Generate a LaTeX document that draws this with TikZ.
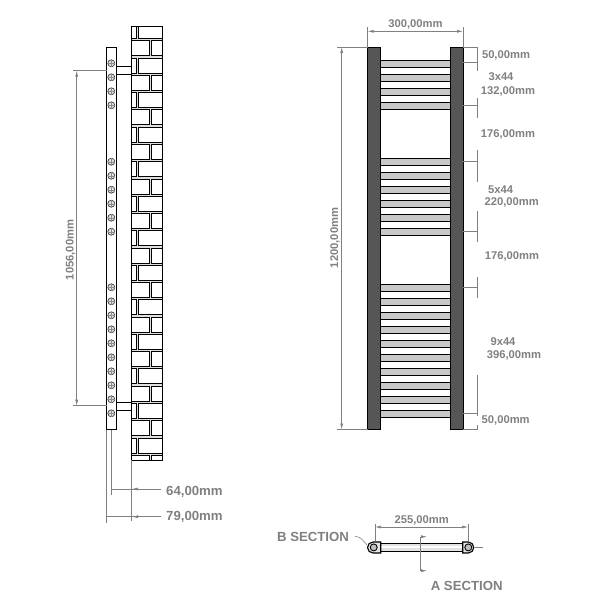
\documentclass[tikz,border=0pt]{standalone}
\usepackage{fontspec}
\setmainfont{Liberation Sans}
\usetikzlibrary{arrows.meta}
\definecolor{dimgray}{HTML}{808080}
\definecolor{railgray}{HTML}{565656}
\definecolor{bargray}{HTML}{C8C8C8}
\begin{document}
\begin{tikzpicture}[x=1pt,y=-1pt,
        dim line/.style={draw=dimgray, line width=0.6pt},
        dim arrow/.style={dim line, {Latex[length=6pt,width=3pt]}-{Latex[length=6pt,width=3pt]}},
        one arrow/.style={dim line, -{Latex[length=6pt,width=3pt]}},
        small label/.style={text=dimgray, font=\fontsize{11.2}{13}\selectfont\bfseries, inner sep=0pt},
        big label/.style={text=dimgray, font=\fontsize{13.2}{15}\selectfont\bfseries, inner sep=0pt},
        rail/.style={draw=black, fill=railgray, line width=0.8pt},
        bar/.style={fill=bargray},
        bar line/.style={draw=black, line width=0.9pt},
        brick/.style={draw=black, fill=white, line width=0.9pt},
        hole/.style={circle, draw=black!75, fill=black!12, line width=0.7pt, inner sep=0pt, minimum width=7pt},
        end cap/.style={draw=black, fill=black!10, line width=1.1pt}
        ]

        \useasboundingbox (0,0) rectangle (600,600);

        \begin{scope}
        \clip (131,26) rectangle (162,460);
        \fill [gray!25] (131,26) rectangle (162,460);
        \foreach \r in {0,...,12} {
            \pgfmathsetmacro{\ya}{23.4+34.55*\r}
            \pgfmathsetmacro{\yb}{\ya+17.4}
            \draw [brick] (130,\ya) rectangle (136,\ya+15);
            \draw [brick] (138,\ya) rectangle (163,\ya+15);
            \draw [brick] (130,\yb) rectangle (149,\yb+15);
            \draw [brick] (151,\yb) rectangle (163,\yb+15);
        }
        \end{scope}
        \draw [black, line width=1pt] (131,26) rectangle (162,460);

        \draw [black, line width=0.9pt, fill=white] (106.7,47.3) rectangle (116.2,429.5);
        \foreach \y in {63.3,77.3,91.3,105.3,
                        161.7,175.7,189.7,203.7,217.7,231.7,
                        287.3,301.3,315.3,329.3,343.3,357.3,371.3,385.3,399.3,413.3} {
            \node [hole] (h\y) at (111.3,\y) {};
            \draw [black!45, line width=0.3pt] (108,\y) -- (114.6,\y) (111.3,\y-3.3) -- (111.3,\y+3.3);
        }
        \foreach \y in {66.7,402.7} {
            \draw [black, line width=0.9pt, fill=white] (116.2,\y) rectangle (131,\y+7.3);
        }

        \coordinate (sa) at (76.7,70.7);
        \coordinate (sb) at (76.7,405.7);
        \draw [dim line] (72.7,70.7) -- (106.7,70.7);
        \draw [dim line] (72.7,405.7) -- (106.7,405.7);
        \draw [dim arrow] (sa) -- (sb);
        \node [small label, rotate=90] (l1056) at (70.5,250) {1056,00mm};

        \draw [dim line] (111.3,429.5) -- (111.3,495);
        \draw [dim line] (106.7,429.5) -- (106.7,523);
        \draw [dim line] (131.5,460) -- (131.5,521);
        \coordinate (w64) at (161,489);
        \coordinate (w79) at (161,516.7);
        \draw [dim line] (111.3,489) -- (w64);
        \draw [dim line] (106.7,516.7) -- (w79);
        \draw [one arrow] (142,489) -- (132,489);
        \draw [one arrow] (142,516.7) -- (132,516.7);
        \node [big label, anchor=west] (l64) at (166,491.5) {64,00mm};
        \node [big label, anchor=west] (l79) at (166,516.7) {79,00mm};

        \foreach \y in {60,74,88,102,
                        158,172,186,200,214,228,
                        284,298,312,326,340,354,368,382,396,410} {
            \fill [bar] (380,\y) rectangle (450,\y+7);
            \draw [bar line] (380,\y) -- (450,\y) (380,\y+7) -- (450,\y+7);
        }
        \draw [rail] (367.6,47) rectangle (380.6,429.5);
        \draw [rail] (450,47) rectangle (463,429.5);

        \draw [dim line] (367.6,27) -- (367.6,47);
        \draw [dim line] (463,27) -- (463,47);
        \coordinate (wa) at (367.6,31.3);
        \coordinate (wb) at (463,31.3);
        \draw [dim arrow] (wa) -- (wb);
        \node [small label] (l300) at (415.5,24) {300,00mm};

        \draw [dim line] (337,47) -- (367.6,47);
        \draw [dim line] (337,429.5) -- (367.6,429.5);
        \coordinate (ha) at (341.7,47);
        \coordinate (hb) at (341.7,429.5);
        \draw [dim arrow] (ha) -- (hb);
        \node [small label, rotate=90] (l1200) at (335,238) {1200,00mm};

        \draw [dim line] (463,47) -- (477.5,47) -- (477.5,71);
        \draw [dim line] (463,62.7) -- (477.5,62.7);
        \draw [dim line] (477.5,98) -- (477.5,118) (463,105) -- (477.5,105);
        \draw [dim line] (477.5,150) -- (477.5,181.7) (463,161.3) -- (477.5,161.3);
        \draw [dim line] (477.5,211) -- (477.5,241.7) (463,231) -- (477.5,231);
        \draw [dim line] (477.5,277) -- (477.5,298) (463,287.7) -- (477.5,287.7);
        \draw [dim line] (477.5,375) -- (477.5,416) (463,413.3) -- (477.5,413.3);
        \draw [dim line] (463,429.5) -- (477.5,429.5) -- (477.5,425);

        \node [small label] (l50a) at (506,55) {50,00mm};
        \node [small label] (l3x) at (501,77) {3x44};
        \node [small label] (l132) at (508,91.7) {132,00mm};
        \node [small label] (l176a) at (508,134.7) {176,00mm};
        \node [small label] (l5x) at (500.7,190) {5x44};
        \node [small label] (l220) at (511.7,202.7) {220,00mm};
        \node [small label] (l176b) at (512,256.7) {176,00mm};
        \node [small label] (l9x) at (503,342) {9x44};
        \node [small label] (l396) at (514,355.3) {396,00mm};
        \node [small label] (l50b) at (505.7,420) {50,00mm};

        \fill [bargray!50] (380,543.5) rectangle (463,551.5);
        \fill [white] (380,545.5) rectangle (463,548);
        \draw [black, line width=1.1pt] (380,543.5) -- (463,543.5) (380,551.5) -- (463,551.5);
        \draw [end cap] (380.7,542) -- (373,542) arc (270:90:5.5) -- (380.7,553) -- cycle;
        \draw [end cap] (462.7,542) -- (468.3,542) arc (-90:90:5.5) -- (462.7,553) -- cycle;
        \foreach \x/\n in {373.7/sl,468.3/sr} {
            \node [circle, draw=black, fill=black!25, line width=0.9pt, inner sep=0pt, minimum width=7pt] (\n) at (\x,547.4) {};
        }

        \draw [dim line] (375,524) -- (375,541);
        \draw [dim line] (468,524) -- (468,541);
        \coordinate (ca) at (375,527);
        \coordinate (cb) at (468,527);
        \draw [dim arrow] (ca) -- (cb);
        \node [small label] (l255) at (421.7,520) {255,00mm};

        \node [big label] (bsec) at (313,536.7) {B SECTION};
        \coordinate (bl) at (367,545);
        \draw [dim line] (355,536.5) .. controls (360,536.5) and (362,539) .. (bl);
        \draw [dim line] (475,547.5) -- (482.7,547.5);

        \coordinate (at) at (420.7,536.7);
        \coordinate (ab) at (420.7,570.7);
        \draw [dim line] (at) -- (ab);
        \draw [one arrow] (at) -- (427,536.7);
        \draw [one arrow] (ab) -- (427,570.7);
        \node [big label] (asec) at (466.7,586) {A SECTION};
     \end{tikzpicture}
\end{document}
